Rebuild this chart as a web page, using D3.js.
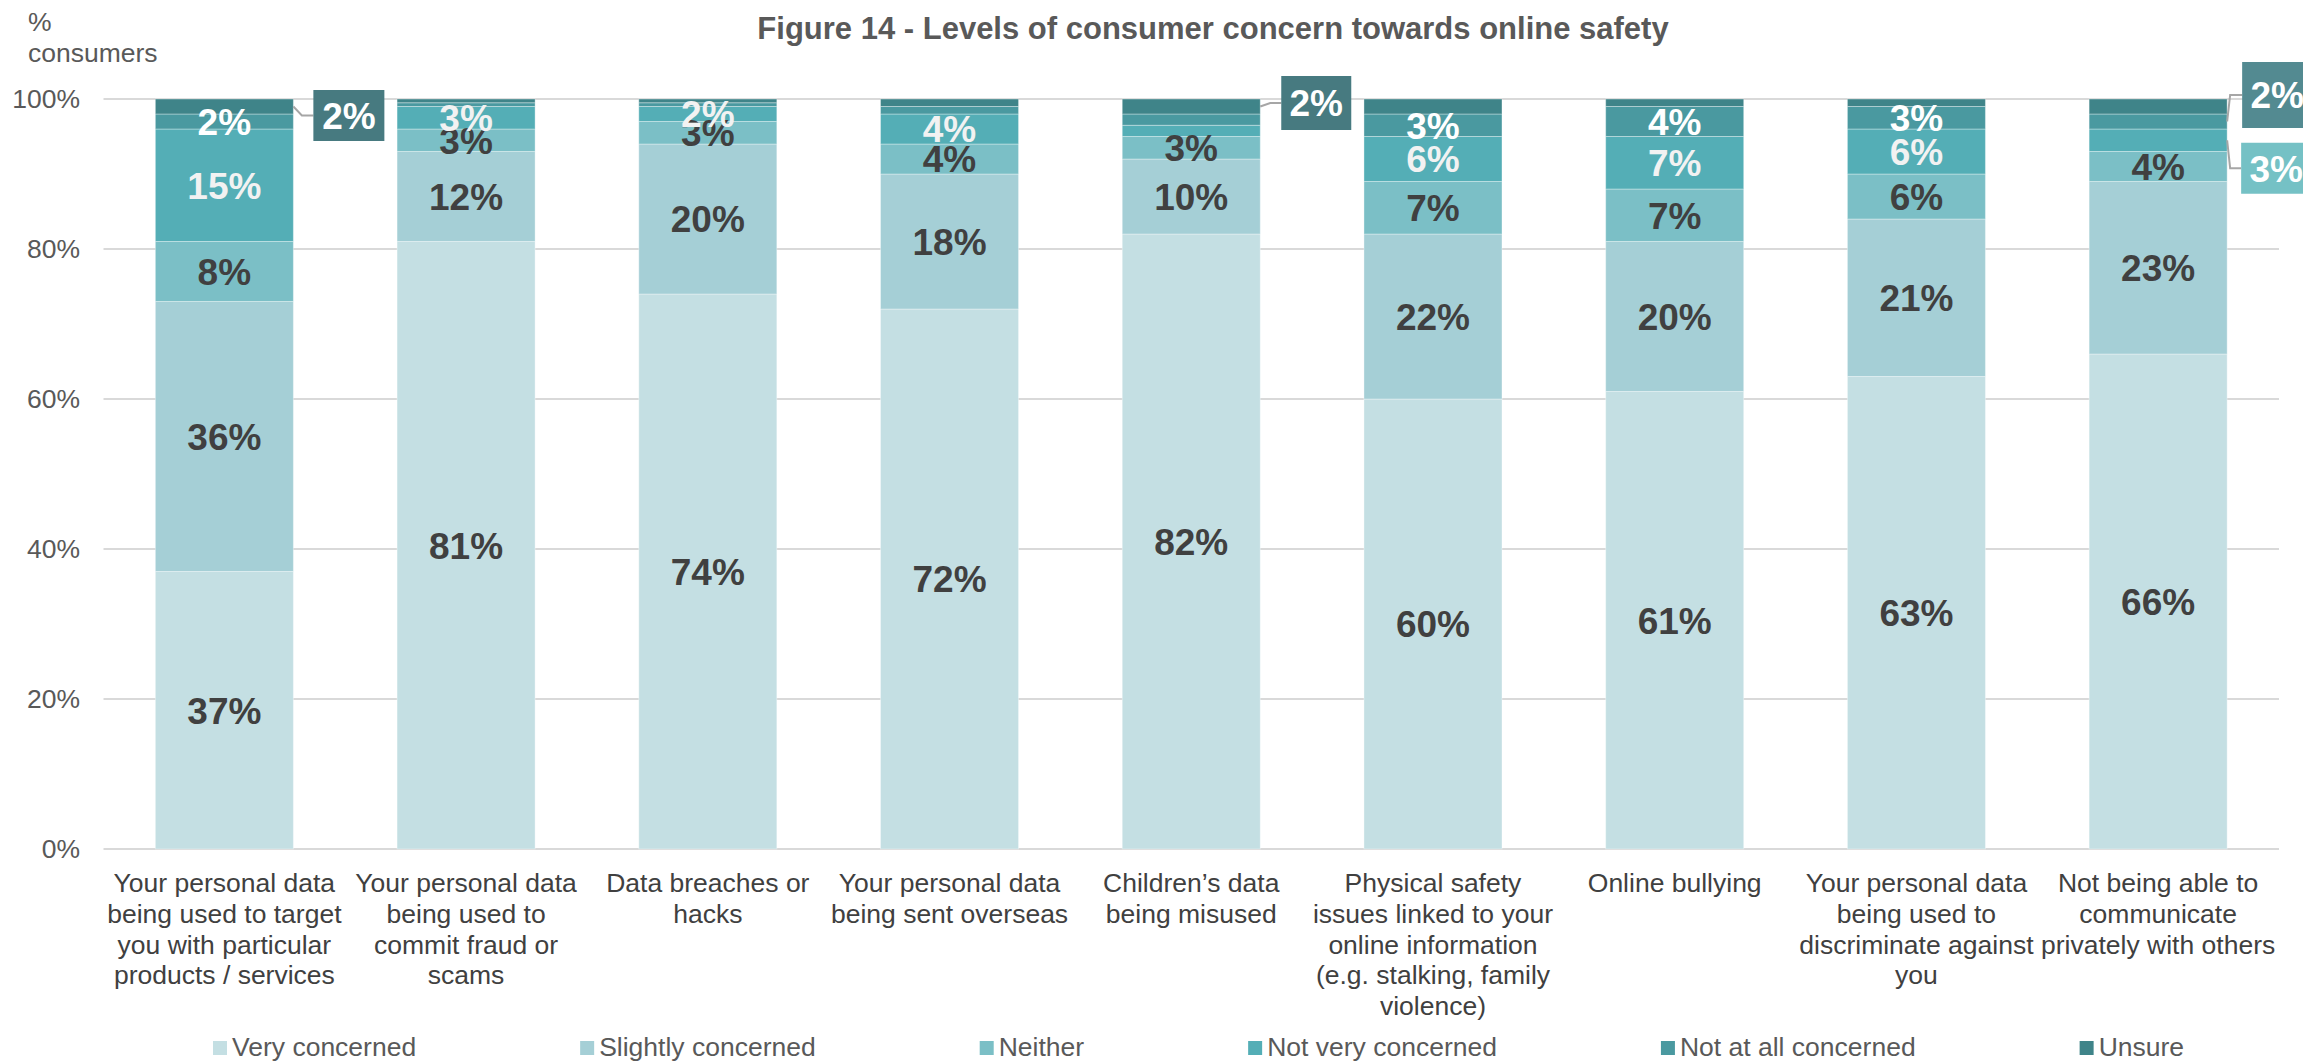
<!DOCTYPE html>
<html>
<head>
<meta charset="utf-8">
<script src="https://cdn.jsdelivr.net/npm/d3@7/dist/d3.min.js"></script>
<style>
  body { margin: 0; background: #ffffff; }
  svg { display: block; }
  text { font-family: Arial, "Liberation Sans", sans-serif; }
</style>
</head>
<body>
<svg id="chart" width="2303" height="1061"></svg>
<script>
// ---- data ----
const categories = [
  "Your personal data\nbeing used to target\nyou with particular\nproducts / services",
  "Your personal data\nbeing used to\ncommit fraud or\nscams",
  "Data breaches or\nhacks",
  "Your personal data\nbeing sent overseas",
  "Children’s data\nbeing misused",
  "Physical safety\nissues linked to your\nonline information\n(e.g. stalking, family\nviolence)",
  "Online bullying",
  "Your personal data\nbeing used to\ndiscriminate against\nyou",
  "Not being able to\ncommunicate\nprivately with others"
];
const seriesNames = ["Very concerned", "Slightly concerned", "Neither", "Not very concerned", "Not at all concerned", "Unsure"];
const veryConcerned      = [37, 81, 74, 72, 82, 60, 61, 63, 66];
const slightlyConcerned  = [36, 12, 20, 18, 10, 22, 20, 21, 23];
const neither            = [8, 3, 3, 4, 3, 7, 7, 6, 4];
const notVeryConcerned   = [15, 3, 2, 4, 1.5, 6, 7, 6, 3];
const notAtAllConcerned  = [2, 0.5, 0.5, 1, 1.5, 3, 4, 3, 2];
const unsure             = [2, 0.5, 0.5, 1, 2, 2, 1, 1, 2];
const yTicks = [0, 20, 40, 60, 80, 100];
// values shown in boxes beside the bar instead of inside it
const callouts = [
  { category: 0, series: "Unsure" },
  { category: 4, series: "Unsure" },
  { category: 8, series: "Not at all concerned" },
  { category: 8, series: "Not very concerned" }
];

// ---- styling ----
const seriesColors = ["#c4dfe3", "#a5cfd6", "#7bbfc6", "#54aeb6", "#4a99a0", "#3f8489"];
const labelColors  = ["#404040", "#404040", "#404040", "#f2f2f2", "#ffffff", "#ffffff"];
const calloutFill  = { "Unsure": "#477a80", "Not at all concerned": "#538a91", "Not very concerned": "#75c1c5" };
// box placement relative to the bar's right edge and the segment's middle
const calloutLayout = [
  { gap: 20, elbow: 8.5, dy: 9, w: 71, h: 51 },
  { gap: 21, elbow: 10, dy: -3.5, w: 70, h: 54 },
  { gap: 15, elbow: 3, dy: -26.5, w: 70, h: 66 },
  { gap: 14, elbow: 3, dy: 28, w: 70, h: 51 }
];
const axisFont = 26.5;

const seriesValues = [veryConcerned, slightlyConcerned, neither, notVeryConcerned, notAtAllConcerned, unsure];
const rows = categories.map((c, i) => {
  const r = { category: c };
  seriesNames.forEach((s, k) => { r[s] = seriesValues[k][i]; });
  return r;
});

const svg = d3.select("#chart");

const x = d3.scaleBand()
  .domain(categories)
  .range([103.5, 2279])
  .paddingInner(0.429)
  .paddingOuter(0.2145);
const y = d3.scaleLinear().domain([0, 100]).range([849, 99]);

// gridlines
svg.append("g")
  .selectAll("line")
  .data(yTicks)
  .join("line")
  .attr("x1", 103.5).attr("x2", 2279)
  .attr("y1", d => y(d)).attr("y2", d => y(d))
  .attr("stroke", "#d9d9d9")
  .attr("stroke-width", 2);

// y axis tick labels
const yAxis = svg.append("g")
  .attr("transform", "translate(92,0)")
  .call(d3.axisLeft(y).tickValues(yTicks).tickFormat(d => d + "%").tickSize(0).tickPadding(12));
yAxis.select(".domain").remove();
yAxis.selectAll("text")
  .attr("font-size", axisFont)
  .attr("fill", "#595959")
  .attr("font-family", "Arial, 'Liberation Sans', sans-serif");

// y axis caption
svg.append("text")
  .attr("x", 28).attr("y", 31)
  .attr("font-size", axisFont).attr("fill", "#595959")
  .selectAll("tspan")
  .data(["%", "consumers"])
  .join("tspan")
  .attr("x", 28)
  .attr("dy", (d, i) => i === 0 ? 0 : 31)
  .text(d => d);

// title
svg.append("text")
  .attr("x", 1213).attr("y", 39)
  .attr("text-anchor", "middle")
  .attr("font-size", 31)
  .attr("font-weight", "bold")
  .attr("fill", "#595959")
  .text("Figure 14 - Levels of consumer concern towards online safety");

// stacked bars
const stacked = d3.stack().keys(seriesNames)(rows);

const layers = svg.append("g")
  .selectAll("g")
  .data(stacked)
  .join("g")
  .attr("fill", (d, k) => seriesColors[k]);

layers.selectAll("rect")
  .data(d => d)
  .join("rect")
  .attr("x", d => x(d.data.category))
  .attr("width", x.bandwidth())
  .attr("y", d => y(d[1]))
  .attr("height", d => y(d[0]) - y(d[1]))
  .attr("stroke", "#ffffff")
  .attr("stroke-opacity", 0.35)
  .attr("stroke-width", 1);

// in-bar value labels
const isCallout = (cat, s) => callouts.some(c => categories[c.category] === cat && c.series === s);
const labelData = [];
stacked.forEach((layer, k) => {
  layer.forEach(d => {
    const v = d[1] - d[0];
    const name = layer.key;
    if (name !== "Unsure" && v >= 2 && !isCallout(d.data.category, name)) {
      labelData.push({ cat: d.data.category, mid: (d[0] + d[1]) / 2, v, k });
    }
  });
});
svg.append("g")
  .selectAll("text")
  .data(labelData)
  .join("text")
  .attr("x", d => x(d.cat) + x.bandwidth() / 2)
  .attr("y", d => y(d.mid))
  .attr("dy", "0.36em")
  .attr("text-anchor", "middle")
  .attr("font-size", 37)
  .attr("font-weight", "bold")
  .attr("fill", d => labelColors[d.k])
  .text(d => d3.format(".0f")(d.v) + "%");

// callout boxes with leader lines
const calloutG = svg.append("g");
callouts.forEach((c, i) => {
  const k = seriesNames.indexOf(c.series);
  const seg = stacked[k][c.category];
  const v = seg[1] - seg[0];
  const L = calloutLayout[i];
  const barRight = x(categories[c.category]) + x.bandwidth();
  const segMid = y((seg[0] + seg[1]) / 2);
  const boxLeft = barRight + L.gap;
  const cy = segMid + L.dy;
  calloutG.append("path")
    .attr("d", d3.line()([[barRight, segMid], [barRight + L.elbow, cy], [boxLeft, cy]]))
    .attr("fill", "none")
    .attr("stroke", "#a6a6a6")
    .attr("stroke-width", 2);
  calloutG.append("rect")
    .attr("x", boxLeft).attr("y", cy - L.h / 2)
    .attr("width", L.w).attr("height", L.h)
    .attr("fill", calloutFill[c.series]);
  calloutG.append("text")
    .attr("x", boxLeft + L.w / 2).attr("y", cy)
    .attr("dy", "0.36em")
    .attr("text-anchor", "middle")
    .attr("font-size", 37)
    .attr("font-weight", "bold")
    .attr("fill", "#ffffff")
    .text(d3.format(".0f")(v) + "%");
});

// category labels
const xAxis = svg.append("g")
  .attr("transform", "translate(0,849)")
  .call(d3.axisBottom(x).tickSize(0).tickFormat(""));
xAxis.select(".domain").remove();
xAxis.selectAll(".tick").append("text")
  .attr("text-anchor", "middle")
  .attr("font-size", axisFont)
  .attr("fill", "#404040")
  .attr("y", 43)
  .selectAll("tspan")
  .data(d => d.split("\n"))
  .join("tspan")
  .attr("x", 0)
  .attr("dy", (d, i) => i === 0 ? 0 : 30.8)
  .text(d => d);

// legend
const legend = svg.append("g").attr("transform", "translate(213,0)");
let lx = 0;
seriesNames.forEach((name, k) => {
  const g = legend.append("g").attr("transform", `translate(${lx},0)`);
  g.append("rect")
    .attr("x", 0).attr("y", 1041)
    .attr("width", 14).attr("height", 14)
    .attr("fill", seriesColors[k]);
  const t = g.append("text")
    .attr("x", 19).attr("y", 1056)
    .attr("font-size", axisFont)
    .attr("fill", "#595959")
    .text(name);
  lx += 19 + t.node().getComputedTextLength() + 164;
});
</script>
</body>
</html>
